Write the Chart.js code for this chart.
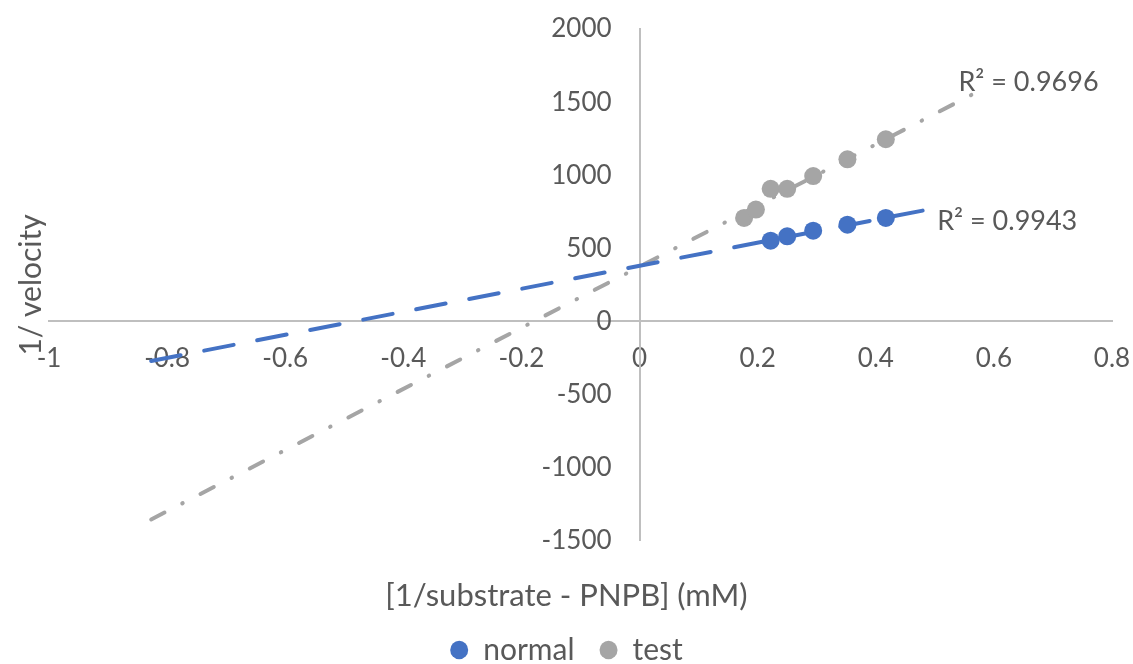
<!DOCTYPE html>
<html>
<head>
<meta charset="utf-8">
<script src="https://cdn.jsdelivr.net/npm/chart.js@4"></script>
<style>
    html, body { margin: 0; padding: 0; background: #fff; }
    #wrap { width: 1133px; height: 664px; }
</style>
</head>
<body>
<div id="wrap"><canvas id="chart"></canvas></div>
<script>
// values
var normalX = [0.222, 0.25, 0.294, 0.352, 0.417];
var normalY = [552, 582, 621, 662, 708];
var testX = [0.177, 0.197, 0.222, 0.25, 0.294, 0.352, 0.417];
var testY = [708, 765, 907, 907, 994, 1109, 1246];

// trendline end points (Excel linear trendlines with forecast)
var normalTrendX = [-0.827, 0.511];
var normalTrendY = [-270, 783];
var testTrendX = [-0.827, 0.59];
var testTrendY = [-1354, 1608];

var r2Labels = ['R² = 0.9943', 'R² = 0.9696'];
var r2At = [[0.504, 682], [0.540, 1636]];

var blue = '#4472C4';
var gray = '#A5A5A5';
var textColor = '#595959';
var axisColor = '#BFBFBF';
var fontName = 'Lato';

function toPoints(xs, ys) {
    var pts = [];
    for (var i = 0; i < xs.length; i++) {
        pts.push({ x: xs[i], y: ys[i] });
    }
    return pts;
}

// R² labels next to the trendlines
var r2Plugin = {
    id: 'r2',
    afterDatasetsDraw: function (chart) {
        var ctx = chart.ctx;
        var sx = chart.scales.x, sy = chart.scales.y;
        ctx.save();
        ctx.font = '27px ' + fontName;
        ctx.fillStyle = textColor;
        ctx.textAlign = 'left';
        ctx.textBaseline = 'middle';
        for (var i = 0; i < r2Labels.length; i++) {
            ctx.fillText(r2Labels[i], sx.getPixelForValue(r2At[i][0]), sy.getPixelForValue(r2At[i][1]));
        }
        ctx.restore();
    }
};

// y tick labels sit left of the y axis (which crosses at x = 0) with a gap
var yLabelsPlugin = {
    id: 'yLabels',
    afterDraw: function (chart) {
        var ctx = chart.ctx;
        var sx = chart.scales.x, sy = chart.scales.y;
        var x0 = sx.getPixelForValue(0) - 28;
        ctx.save();
        ctx.font = '26px ' + fontName;
        ctx.fillStyle = textColor;
        ctx.textAlign = 'right';
        ctx.textBaseline = 'middle';
        sy.ticks.forEach(function (t) {
            ctx.fillText(String(t.value), x0, sy.getPixelForValue(t.value));
        });
        ctx.restore();
    }
};

Chart.defaults.font.family = fontName;
Chart.defaults.color = textColor;

var ctx = document.getElementById('chart').getContext('2d');
var chart = new Chart(ctx, {
    type: 'scatter',
    data: {
        datasets: [
            {
                label: 'normal',
                data: toPoints(normalX, normalY),
                backgroundColor: blue,
                borderColor: blue,
                borderWidth: 0,
                pointRadius: 9,
                pointHoverRadius: 9,
                order: 1
            },
            {
                label: 'test',
                data: toPoints(testX, testY),
                backgroundColor: gray,
                borderColor: gray,
                borderWidth: 0,
                pointRadius: 9,
                pointHoverRadius: 9,
                order: 1
            },
            {
                label: 'trend normal',
                data: toPoints(normalTrendX, normalTrendY),
                showLine: true,
                borderColor: blue,
                borderWidth: 4,
                borderDash: [30, 24],
                borderCapStyle: 'round',
                pointRadius: 0,
                order: 2
            },
            {
                label: 'trend test',
                data: toPoints(testTrendX, testTrendY),
                showLine: true,
                borderColor: gray,
                borderWidth: 4,
                borderDash: [15, 20, 0.5, 20],
                borderCapStyle: 'round',
                pointRadius: 0,
                order: 2
            }
        ]
    },
    options: {
        responsive: true,
        maintainAspectRatio: false,
        animation: false,
        layout: {
            padding: { top: 29, right: 0, bottom: -11, left: 0 }
        },
        scales: {
            x: {
                type: 'linear',
                position: { y: 0 },
                min: -1,
                max: 0.8,
                ticks: {
                    stepSize: 0.2,
                    padding: 14,
                    font: { size: 26 },
                    color: textColor,
                    callback: function (v) { return String(Number(v.toFixed(1))); }
                },
                grid: { display: false },
                border: { display: true, color: axisColor, width: 2 },
                afterFit: function (scale) {
                    scale.paddingRight = 21;
                }
            },
            y: {
                type: 'linear',
                position: { x: 0 },
                min: -1500,
                max: 2000,
                ticks: { stepSize: 500, display: false },
                grid: { display: false },
                border: { display: true, color: axisColor, width: 2 }
            }
        },
        plugins: {
            legend: {
                position: 'bottom',
                weight: 3000,
                labels: {
                    usePointStyle: true,
                    pointStyleWidth: 18,
                    boxHeight: 13,
                    padding: 25,
                    font: { size: 30 },
                    color: textColor,
                    filter: function (item) { return item.datasetIndex < 2; }
                }
            },
            title: {
                display: true,
                position: 'bottom',
                text: '[1/substrate - PNPB] (mM)',
                color: textColor,
                font: { size: 31, weight: 'normal' },
                padding: { top: 37, bottom: -5 }
            },
            subtitle: {
                display: true,
                position: 'left',
                fullSize: false,
                text: '1/ velocity',
                color: textColor,
                font: { size: 30, weight: 'normal' },
                padding: { top: 13, bottom: 0 }
            },
            tooltip: { enabled: false }
        }
    },
    plugins: [r2Plugin, yLabelsPlugin]
});
</script>
</body>
</html>
